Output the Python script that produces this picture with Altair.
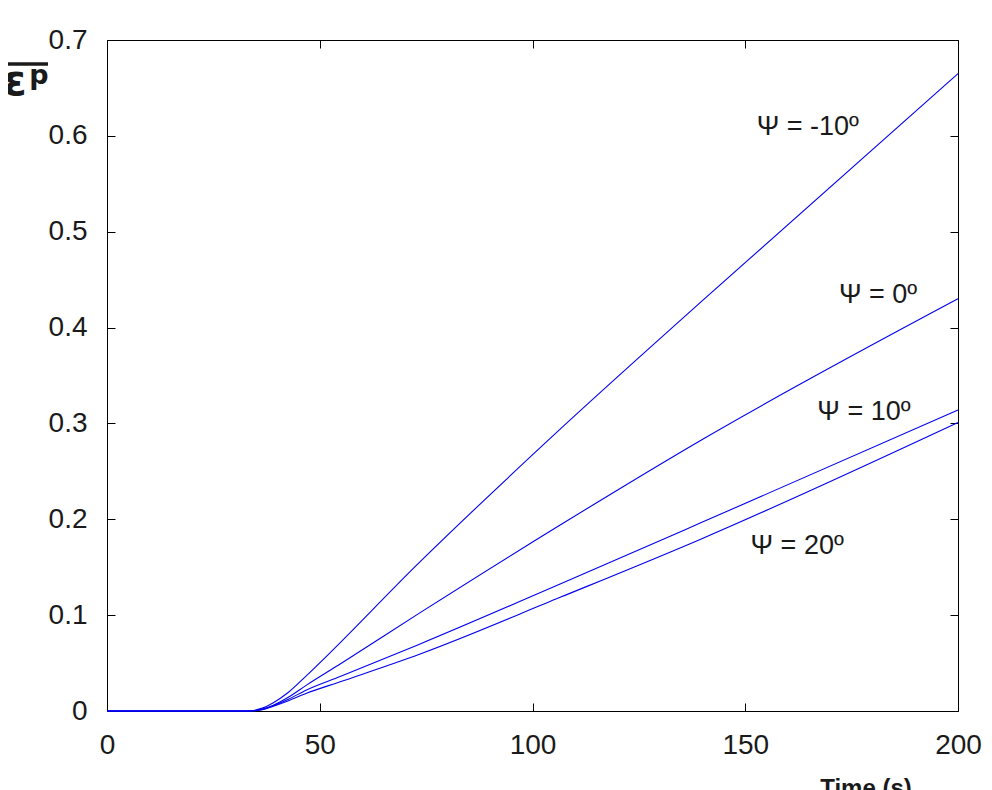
import altair as alt
import pandas as pd

# ---- data ----
psi_names = ["-10", "0", "10", "20"]

time_m10 = [0, 33.2, 36.5, 39.1, 42.5, 46.9, 73.6, 106.5, 139.4, 200]
eps_m10 = [0, 0, 0.003, 0.0087, 0.019, 0.037, 0.1558, 0.294, 0.426, 0.665]

time_0 = [0, 33.2, 36.5, 39.1, 42.5, 46.9, 54.8, 73.6, 106.5, 139.4, 200]
eps_0 = [0, 0, 0.002, 0.006, 0.014, 0.027, 0.049, 0.1026, 0.194, 0.282, 0.430]

time_10 = [0, 33.2, 36.5, 39.1, 42.5, 46.9, 54.8, 73.6, 106.5, 139.4, 200]
eps_10 = [0, 0, 0.0015, 0.0055, 0.012, 0.022, 0.036, 0.070, 0.1325, 0.196, 0.314]

time_20 = [0, 33.2, 36.5, 39.1, 42.5, 46.9, 54.8, 73.6, 106.5, 139.4, 200]
eps_20 = [0, 0, 0.0013, 0.005, 0.0105, 0.0185, 0.0305, 0.0595, 0.1186, 0.179, 0.301]

label_text = ["Ψ = -10º", "Ψ = 0º", "Ψ = 10º", "Ψ = 20º"]
label_x = [164.7, 181.2, 177.9, 162.2]
label_y = [0.609, 0.434, 0.312, 0.172]

x_ticks = [0, 50, 100, 150, 200]
y_ticks = [0, 0.1, 0.2, 0.3, 0.4, 0.5, 0.6, 0.7]

# ---- build tables ----
rows = []
for name, ts, es in zip(psi_names, [time_m10, time_0, time_10, time_20],
                        [eps_m10, eps_0, eps_10, eps_20]):
    for t, e in zip(ts, es):
        rows.append({"psi": name, "time": t, "eps": e})
df = pd.DataFrame(rows)
labels_df = pd.DataFrame({"text": label_text, "time": label_x, "eps": label_y})

W, H = 851, 671
FONT = "Liberation Sans"
TICK = 8

x_scale = alt.Scale(domain=[0, 200], nice=False, zero=False)
y_scale = alt.Scale(domain=[0, 0.7], nice=False, zero=False)

common_axis = dict(grid=False, domain=False, title=None, tickColor="black",
                   tickWidth=1, tickSize=TICK, offset=-TICK,
                   labelFont=FONT, labelFontSize=28, labelColor="#1a1a1a")

lines = alt.Chart(df).mark_line(color="#0000f0", strokeWidth=1.1,
                                interpolate="monotone").encode(
    x=alt.X("time:Q", scale=x_scale,
            axis=alt.Axis(orient="bottom", values=x_ticks, labelPadding=20,
                          labelFlush=False, **common_axis)),
    y=alt.Y("eps:Q", scale=y_scale,
            axis=alt.Axis(orient="left", values=y_ticks, labelPadding=20,
                          format="~g", **common_axis)),
    detail="psi:N",
    order="time:Q",
)

mirror = alt.Chart(df).mark_line(opacity=0).encode(
    x=alt.X("time:Q", scale=x_scale,
            axis=alt.Axis(orient="top", values=x_ticks, labels=False, **common_axis)),
    y=alt.Y("eps:Q", scale=y_scale,
            axis=alt.Axis(orient="right", values=y_ticks, labels=False, **common_axis)),
    detail="psi:N",
)

ann = alt.Chart(labels_df).mark_text(font=FONT, fontSize=27, color="#1a1a1a",
                                     align="center", baseline="middle").encode(
    x=alt.X("time:Q", scale=x_scale, axis=None),
    y=alt.Y("eps:Q", scale=y_scale, axis=None),
    text="text:N",
)

eps_sym = alt.Chart(pd.DataFrame({"t": ["ε"]})).mark_text(
    font="DejaVu Sans", fontSize=42, fontWeight="bold", color="#1a1a1a",
    align="center", baseline="alphabetic").encode(
    x=alt.value(-92), y=alt.value(55), text="t:N")

p_sym = alt.Chart(pd.DataFrame({"t": ["p"]})).mark_text(
    font="DejaVu Sans", fontSize=27, fontWeight="bold", color="#1a1a1a",
    align="center", baseline="alphabetic").encode(
    x=alt.value(-68), y=alt.value(44), text="t:N")

overline = alt.Chart(pd.DataFrame({"t": ["bar"]})).mark_rule(
    color="#1a1a1a", strokeWidth=3.5).encode(
    x=alt.value(-104), x2=alt.value(-59), y=alt.value(24), y2=alt.value(24))

time_title = alt.Chart(pd.DataFrame({"t": ["Time (s)"]})).mark_text(
    font=FONT, fontSize=24, fontWeight="bold", color="#1a1a1a",
    align="center", baseline="top").encode(
    x=alt.value(759), y=alt.value(737), text="t:N")

chart = alt.layer(lines, mirror, ann, eps_sym, p_sym, overline, time_title).resolve_axis(
    x="independent", y="independent"
).properties(
    width=W, height=H,
    autosize=alt.AutoSizeParams(type="none"),
    padding={"left": 99, "top": 32, "right": 26, "bottom": 79},
    background="white",
).configure_view(stroke="black", strokeWidth=1)

chart.save("out.html", embed_options={"renderer": "svg", "actions": False})
